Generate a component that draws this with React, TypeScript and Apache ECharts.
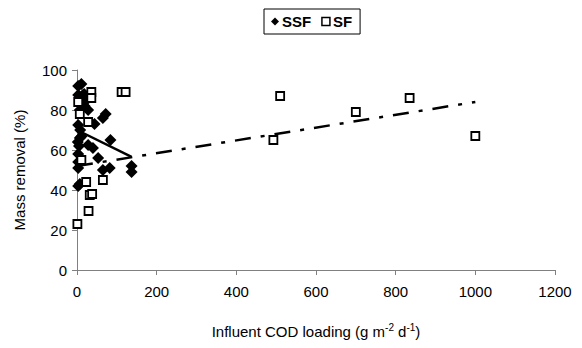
import React, { useEffect, useRef } from "react";
import * as echarts from "echarts";

const ssfPoints: number[][] = [
  [3, 92], [11, 93], [18, 88], [3, 87.5], [15, 87.5], [11, 84], [24, 85], [19, 82],
  [7, 80], [28, 80], [65, 76], [72, 78], [44, 73], [3, 72.5], [11, 66.7], [7, 66],
  [84, 65], [28, 62.5], [40, 61], [3, 58], [53, 56], [3, 54], [65, 50], [82, 51],
  [3, 51], [137, 52], [137, 49], [7, 43], [3, 42], [5, 62], [8, 70], [2, 64],
];

const sfPoints: number[][] = [
  [36, 89], [36, 86], [3, 84], [7, 78], [28, 74], [112, 89], [122, 89],
  [11, 55], [23, 44], [65, 45], [32, 37.5], [38, 38], [29, 29.5], [1, 23],
  [510, 87], [700, 79], [835, 86], [493, 65], [1000, 67],
];

const ssfTrend: number[][] = [[0, 70], [137, 56.6]];
const sfTrend: number[][] = [[0, 52], [1000, 84]];

export default function App() {
  const ref = useRef<HTMLDivElement>(null);
  useEffect(() => {
    if (!ref.current) return;
    const chart = echarts.init(ref.current, null, { renderer: "svg" });
    const font = "'Liberation Sans', Arial, sans-serif";
    const axisColor = "#808080";
    chart.setOption({
      animation: false,
      textStyle: { fontFamily: font, color: "#000" },
      grid: { left: 77, right: 27, top: 70, bottom: 78 },
      legend: {
        data: [
          { name: "SSF", icon: "diamond", itemStyle: { color: "#000", opacity: 1 } },
          { name: "SF", icon: "rect", itemStyle: { color: "#fff", borderColor: "#000", borderWidth: 1.5, opacity: 1 } },
        ],
        top: 9,
        left: 264,
        itemWidth: 8,
        itemHeight: 8,
        itemGap: 10,
        padding: [5, 8, 5, 7],
        borderColor: "#000",
        borderWidth: 1,
        textStyle: { fontFamily: font, fontSize: 15, fontWeight: "bold", color: "#000", padding: [0, 0, 0, -2] },
      },
      xAxis: {
        type: "value",
        min: 0,
        max: 1200,
        interval: 200,
        name: "Influent COD loading (g m{sup|-2} d{sup|-1})",
        nameLocation: "middle",
        nameGap: 52,
        nameTextStyle: {
          fontFamily: font,
          fontSize: 15,
          color: "#000",
          rich: { sup: { fontSize: 10, verticalAlign: "top", padding: [0, 0, 8, 0], fontFamily: font } },
        },
        axisLine: { lineStyle: { color: axisColor, width: 1 } },
        axisTick: { inside: false, length: 5, lineStyle: { color: axisColor } },
        axisLabel: { fontFamily: font, fontSize: 15, color: "#000", margin: 14, formatter: (v: number) => String(v) },
        splitLine: { show: false },
      },
      yAxis: {
        type: "value",
        min: 0,
        max: 100,
        interval: 20,
        name: "Mass removal (%)",
        nameLocation: "middle",
        nameGap: 50,
        nameTextStyle: { fontFamily: font, fontSize: 15, color: "#000" },
        axisLine: { show: true, lineStyle: { color: axisColor, width: 1 } },
        axisTick: { show: true, length: 5, lineStyle: { color: axisColor } },
        axisLabel: { fontFamily: font, fontSize: 15, color: "#000", margin: 10, formatter: (v: number) => String(v) },
        splitLine: { show: false },
      },
      series: [
        {
          name: "SSF",
          type: "scatter",
          data: ssfPoints,
          symbol: "diamond",
          symbolSize: 12,
          itemStyle: { color: "#000", opacity: 1 },
          z: 3,
        },
        {
          name: "SF",
          type: "scatter",
          data: sfPoints,
          symbol: "rect",
          symbolSize: 8,
          itemStyle: { color: "#fff", borderColor: "#000", borderWidth: 1.8, opacity: 1 },
          z: 4,
        },
        {
          name: "SSF trend",
          type: "line",
          data: ssfTrend,
          showSymbol: false,
          symbol: "none",
          lineStyle: { color: "#000", width: 2.5, type: "solid" },
          z: 5,
        },
        {
          name: "SF trend",
          type: "line",
          data: sfTrend,
          showSymbol: false,
          symbol: "none",
          lineStyle: { color: "#000", width: 2.5, type: [16, 10, 4, 10] },
          z: 5,
        },
      ],
    });
    return () => chart.dispose();
  }, []);
  return <div ref={ref} style={{ width: 582, height: 348, position: "absolute", left: 0, top: 0 }} />;
}
